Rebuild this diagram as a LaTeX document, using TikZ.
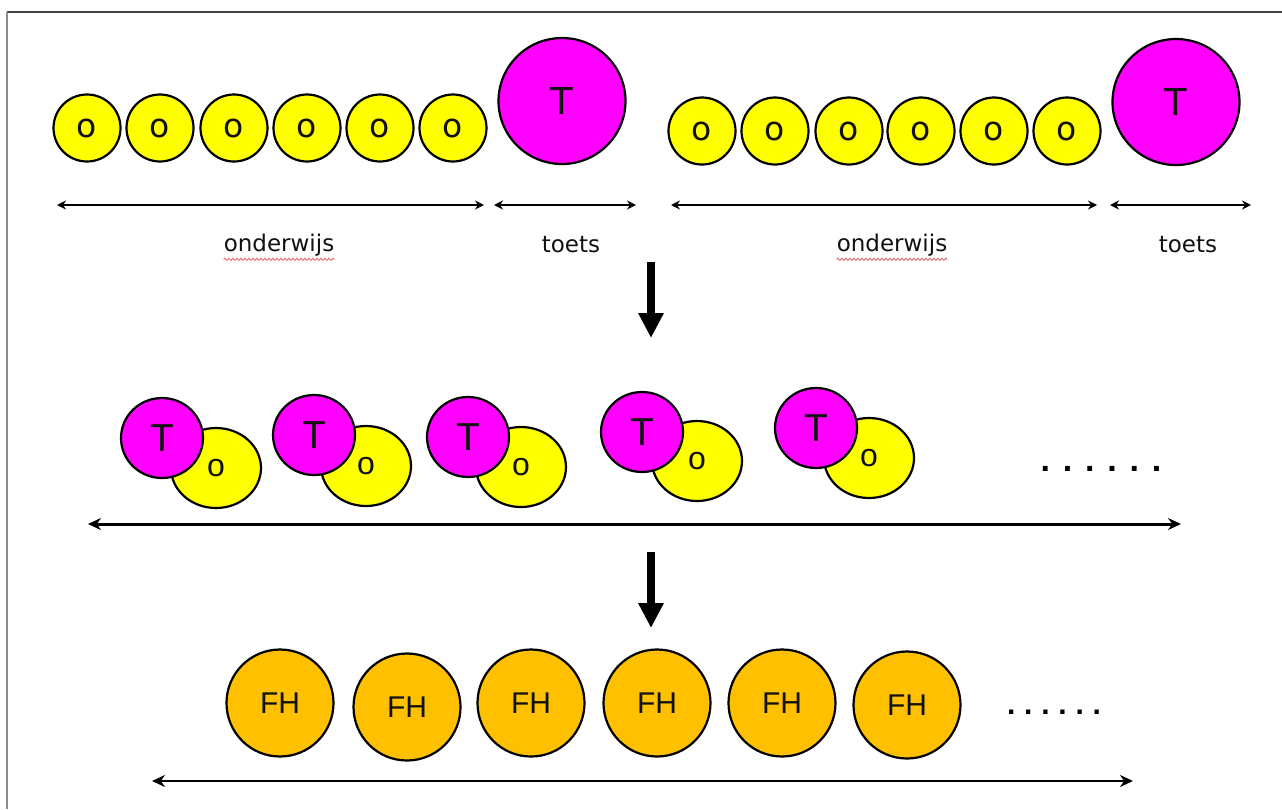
\documentclass[tikz,border=0pt]{standalone}
\usepackage{fontspec}
\setmainfont{Liberation Sans}
\newfontfamily\verd{DejaVu Sans}
\usetikzlibrary{arrows.meta,shapes.geometric,decorations.pathmorphing}
\definecolor{oyellow}{HTML}{FFFF00}
\definecolor{tmagenta}{HTML}{FF00FF}
\definecolor{fhorange}{HTML}{FFC000}
\definecolor{spellred}{HTML}{E06A6A}
\definecolor{inkblack}{HTML}{111111}

\begin{document}
\begin{tikzpicture}[x=1pt,y=-1pt,
  blob/.style={ellipse, draw=black, line width=2.2pt, inner sep=0pt, text=inkblack},
  ocirc/.style={blob, fill=oyellow, minimum width=67pt, minimum height=67pt,
    font=\verd\fontsize{33}{35}\selectfont},
  tbig/.style={blob, fill=tmagenta, minimum width=127pt, minimum height=126pt,
    font=\verd\fontsize{37}{39}\selectfont},
  tsmall/.style={blob, fill=tmagenta, minimum width=82pt, minimum height=80pt,
    font=\fontsize{39}{41}\selectfont},
  osmall/.style={blob, fill=oyellow, minimum width=90pt, minimum height=80pt,
    font=\fontsize{32}{34}\selectfont},
  fhcirc/.style={blob, fill=fhorange, minimum width=107pt, minimum height=107pt,
    font=\fontsize{30}{32}\selectfont},
  spanlabel/.style={font=\verd\fontsize{23}{25}\selectfont, text=inkblack, inner sep=0pt},
  spanarrow/.style={line width=2pt, {Stealth[length=9pt,width=9pt]}-{Stealth[length=9pt,width=9pt]}},
  timeline/.style={line width=3pt, {Stealth[length=13pt,width=12pt]}-{Stealth[length=13pt,width=12pt]}},
  flowarrow/.style={line width=8pt, -{Triangle[length=25pt,width=24pt]}},
  spellmark/.style={spellred, line width=0.9pt, decorate,
    decoration={snake, amplitude=1.1pt, segment length=4pt}},
  ellipsis/.style={font=\bfseries\fontsize{34}{36}\selectfont, text=black, inner sep=0pt}
]
\useasboundingbox (0,0) rectangle (1282,809);

% slide frame (top and left edges only)
\draw[color=black!75, line width=1.3pt] (1282,12) -- (7,12);
\draw[color=black!45, line width=1.6pt] (7,12) -- (7,809);

% ---------- row 1: instruction blocks followed by a test ----------
\foreach \x [count=\i] in {87,160,234,307,380,453}
  \node[ocirc] (o\i) at (\x,128) {o};
\node[tbig] (t1) at (562,101) {T};

\foreach \x [count=\i] in {702,775,849,921,994,1067}
  \node[ocirc] (p\i) at (\x,131) {o};
\node[tbig] (t2) at (1176,102) {T};

\coordinate (a1l) at (57,205);   \coordinate (a1r) at (484,205);
\coordinate (a2l) at (494,205);  \coordinate (a2r) at (636,205);
\coordinate (a3l) at (671,205);  \coordinate (a3r) at (1097,205);
\coordinate (a4l) at (1110,205); \coordinate (a4r) at (1251,205);
\draw[spanarrow] (a1l) -- (a1r);
\draw[spanarrow] (a2l) -- (a2r);
\draw[spanarrow] (a3l) -- (a3r);
\draw[spanarrow] (a4l) -- (a4r);

\node[spanlabel] (l1) at (279,245) {onderwijs};
\node[spanlabel] (l2) at (571,245) {toets};
\node[spanlabel] (l3) at (892,245) {onderwijs};
\node[spanlabel] (l4) at (1188,245) {toets};
\draw[spellmark] ([yshift=-3pt]l1.south west) -- ([yshift=-3pt]l1.south east);
\draw[spellmark] ([yshift=-3pt]l3.south west) -- ([yshift=-3pt]l3.south east);

% ---------- first transition ----------
\coordinate (d1s) at (651,262);
\coordinate (d1e) at (651,338);
\draw[flowarrow] (d1s) -- (d1e);

% ---------- row 2: test and instruction interwoven ----------
\foreach \tx/\ty/\ox/\oy [count=\i] in
  {162/438/216/468, 314/435/366/466, 468/437/521/467, 642/432/697/461, 816/428/869/458}{
  \node[osmall] (m\i) at (\ox,\oy) {o};
  \node[tsmall] (n\i) at (\tx,\ty) {T};
}
\node[ellipsis] (dots1) at (1101,469) {.\hspace{12.8pt}.\hspace{12.8pt}.\hspace{12.8pt}.\hspace{12.8pt}.\hspace{12.8pt}.};

\coordinate (b1l) at (88,524);
\coordinate (b1r) at (1181,524);
\draw[timeline] (b1l) -- (b1r);

% ---------- second transition ----------
\coordinate (d2s) at (651,552);
\coordinate (d2e) at (651,628);
\draw[flowarrow] (d2s) -- (d2e);

% ---------- row 3: formative assessment moments ----------
\foreach \x/\y [count=\i] in {280/703, 407/707, 531/703, 657/703, 782/703, 907/705}
  \node[fhcirc] (f\i) at (\x,\y) {FH};
\node[ellipsis, font=\bfseries\fontsize{30}{32}\selectfont] (dots2) at (1054,712) {.\hspace{8.8pt}.\hspace{8.8pt}.\hspace{8.8pt}.\hspace{8.8pt}.\hspace{8.8pt}.};

\coordinate (c1l) at (152,781);
\coordinate (c1r) at (1133,781);
\draw[timeline, line width=2.6pt] (c1l) -- (c1r);
\end{tikzpicture}
\end{document}
